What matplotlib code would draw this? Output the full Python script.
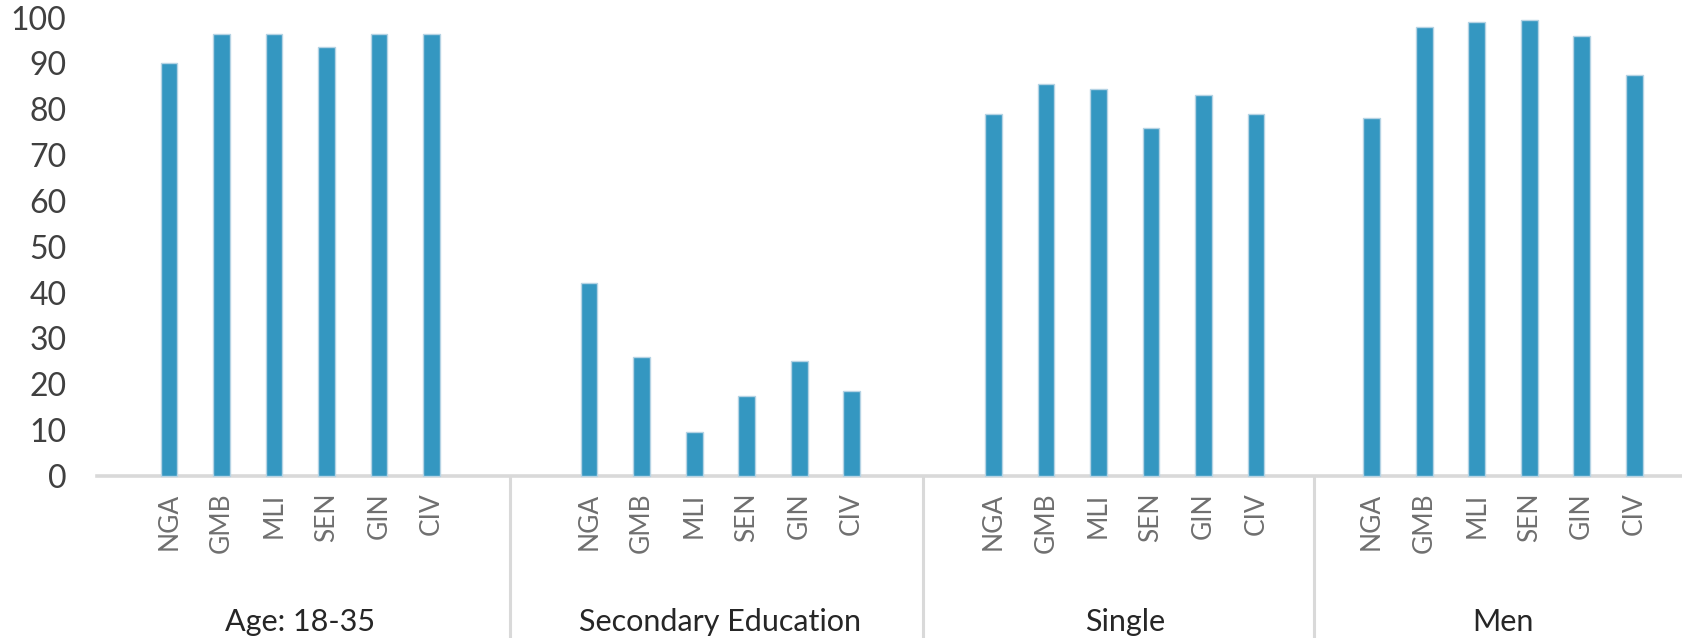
import matplotlib.pyplot as plt
import matplotlib.transforms as mtransforms

plt.rcParams['font.family'] = ['Lato', 'DejaVu Sans']

# data
countries = ["NGA", "GMB", "MLI", "SEN", "GIN", "CIV"]
groups = ["Age: 18-35", "Secondary Education", "Single", "Men"]
age_18_35 = [90, 96.5, 96.5, 93.5, 96.5, 96.5]
secondary_edu = [42, 26, 9.5, 17.5, 25, 18.5]
single = [79, 85.5, 84.5, 76, 83, 79]
men = [78, 98, 99, 99.5, 96, 87.5]
series = [age_18_35, secondary_edu, single, men]
y_ticks = list(range(0, 101, 10))

# layout: spacing (in bar slots) between last bar of a group and first of next
gaps = [3.0, 2.7, 2.2]

bar_color = "#3497c1"
line_color = "#d9d9d9"

fig = plt.figure(figsize=(16.82, 6.38), dpi=100)
ax = fig.add_axes([97 / 1682, (638 - 476) / 638, 1 - 97 / 1682, (476 - 17.5) / 638])

positions = []
starts = []
x0 = 0.0
for g, vals in enumerate(series):
    starts.append(x0)
    xs = [x0 + i for i in range(len(vals))]
    positions.append(xs)
    ax.bar(xs, vals, width=0.32, color=bar_color, edgecolor="#b5d3e4",
           linewidth=1.0, zorder=3, clip_on=False)
    if g < len(gaps):
        x0 = xs[-1] + gaps[g]

all_x = [x for xs in positions for x in xs]
ax.set_xlim(all_x[0] - 1.37, all_x[-1] + 0.91)
ax.set_ylim(0, 100)

ax.set_xticks(all_x)
ax.set_xticklabels(countries * len(groups), rotation=90, fontsize=19,
                   color="#6f6f6f", va="top")
ax.set_yticks(y_ticks)
ax.set_yticklabels([str(t) for t in y_ticks], fontsize=23, color="#404040")
ax.tick_params(axis="x", length=0, pad=12)
ax.tick_params(axis="y", length=0, pad=22)

for side in ["top", "right", "left"]:
    ax.spines[side].set_visible(False)
ax.spines["bottom"].set_color(line_color)
ax.spines["bottom"].set_linewidth(2.6)

trans = mtransforms.blended_transform_factory(ax.transData, ax.transAxes)

# separators between groups
for g in range(len(groups) - 1):
    sx = (positions[g][-1] + positions[g + 1][0]) / 2
    ax.plot([sx, sx], [0, -0.4], color=line_color, lw=2.2,
            transform=trans, clip_on=False)

# group labels
for g, name in enumerate(groups):
    cx = (positions[g][0] + positions[g][-1]) / 2
    ax.text(cx, -0.318, name, transform=trans, ha="center", va="center",
            fontsize=22, color="#262626")

fig.savefig("out.png", dpi=100)
